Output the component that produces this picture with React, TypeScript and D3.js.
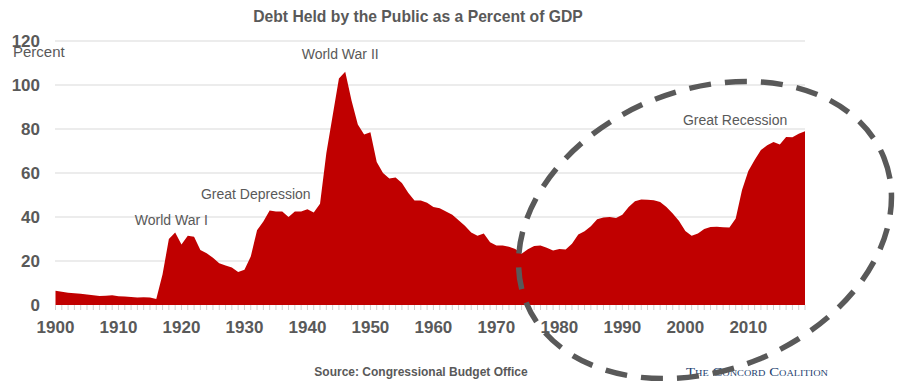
import React from "react";
import * as d3 from "d3";

const startYear = 1900;
const debtPct: number[] = [
  6.5, 6.0, 5.6, 5.3, 5.1, 4.8, 4.4, 4.1, 4.2, 4.4,
  4.0, 3.9, 3.6, 3.4, 3.5, 3.4, 2.7, 14.0, 30.0, 33.0,
  27.5, 31.5, 31.0, 25.0, 23.5, 21.5, 19.0, 18.0, 17.0, 15.0,
  16.0, 22.0, 34.0, 38.0, 43.0, 42.5, 42.5, 40.0, 42.5, 42.5,
  43.5, 42.0, 46.0, 69.0, 86.0, 103.0, 106.0, 93.0, 82.0, 77.5,
  78.5, 65.0, 60.0, 57.5, 58.0, 55.5, 51.0, 47.5, 47.5, 46.5,
  44.5, 44.0, 42.5, 41.0, 38.5, 36.0, 33.0, 31.5, 32.5, 28.5,
  27.0, 27.0, 26.5, 25.5, 23.3, 25.3, 26.8, 27.0, 26.0, 24.8,
  25.5, 25.2, 27.8, 32.0, 33.5, 35.8, 39.0, 39.8, 40.0, 39.5,
  41.0, 44.5, 47.2, 48.0, 47.8, 47.6, 46.8, 44.5, 41.6, 38.2,
  33.6, 31.5, 32.5, 34.5, 35.5, 35.6, 35.3, 35.2, 39.3, 52.3,
  60.9, 65.9, 70.4, 72.6, 74.1, 72.9, 76.4, 76.2, 77.8, 79.0,
];
const years: number[] = debtPct.map((_, i) => startYear + i);
const yTicks: number[] = [0, 20, 40, 60, 80, 100, 120];
const xTicks: number[] = [1900, 1910, 1920, 1930, 1940, 1950, 1960, 1970, 1980, 1990, 2000, 2010];
const annotations: { text: string; year: number; value: number }[] = [
  { text: "World War I", year: 1918.4, value: 36.5 },
  { text: "Great Depression", year: 1931.8, value: 48 },
  { text: "World War II", year: 1945.2, value: 112 },
  { text: "Great Recession", year: 2007.9, value: 82 },
];
const title = "Debt Held by the Public as a Percent of GDP";
const source = "Source: Congressional Budget Office";

export default function App() {
  const W = 898, H = 381;
  const x = d3.scaleLinear().domain([1900, 2019]).range([55.5, 805]);
  const y = d3.scaleLinear().domain([0, 120]).range([305, 41]);
  const area = d3
    .area<number>()
    .x((_, i) => x(years[i]))
    .y0(y(0))
    .y1((d) => y(d));
  const grey = "#595959";
  const font = "'Liberation Sans', Arial, sans-serif";
  return (
    <svg width={W} height={H} style={{ position: "absolute", left: 0, top: 0, background: "#fff" }}>
      <text x={418} y={22} textAnchor="middle" fontFamily={font} fontWeight="bold" fontSize={15.7} fill={grey}>
        {title}
      </text>
      {yTicks.filter((t) => t > 0).map((t) => (
        <line key={"g" + t} x1={55} x2={805} y1={y(t)} y2={y(t)} stroke="#d9d9d9" strokeWidth={1} />
      ))}
      {years.map((yr) => (
        <line key={"m" + yr} x1={x(yr)} x2={x(yr)} y1={305} y2={310} stroke="#d0d0d0" strokeWidth={1} />
      ))}
      <path d={area(debtPct) || ""} fill="#c00000" />
      {yTicks.map((t) => (
        <text key={"y" + t} x={40} y={y(t) + 6} textAnchor="end" fontFamily={font} fontWeight="bold" fontSize={17} fill={grey}>
          {t}
        </text>
      ))}
      <text x={13} y={57} fontFamily={font} fontSize={15} fill={grey}>
        Percent
      </text>
      {xTicks.map((t) => (
        <text key={"x" + t} x={x(t)} y={333} textAnchor="middle" fontFamily={font} fontWeight="bold" fontSize={17} fill={grey}>
          {t}
        </text>
      ))}
      {annotations.map((a) => (
        <text key={a.text} x={x(a.year)} y={y(a.value)} textAnchor="middle" fontFamily={font} fontSize={14} fill={grey}>
          {a.text}
        </text>
      ))}
      <text x={421} y={376} textAnchor="middle" fontFamily={font} fontWeight="bold" fontSize={12} fill={grey}>
        {source}
      </text>
      <text x={686} y={376} fontFamily="'Liberation Serif', 'Times New Roman', serif" fontSize={13} fill="#243f70" style={{ fontVariant: "small-caps" }} textLength={142} lengthAdjust="spacingAndGlyphs">
        The Concord Coalition
      </text>
      <ellipse cx={705} cy={230} rx={193} ry={140} transform="rotate(-22 705 230)" fill="none" stroke={grey} strokeWidth={5.5} strokeDasharray="22 14" />
    </svg>
  );
}
